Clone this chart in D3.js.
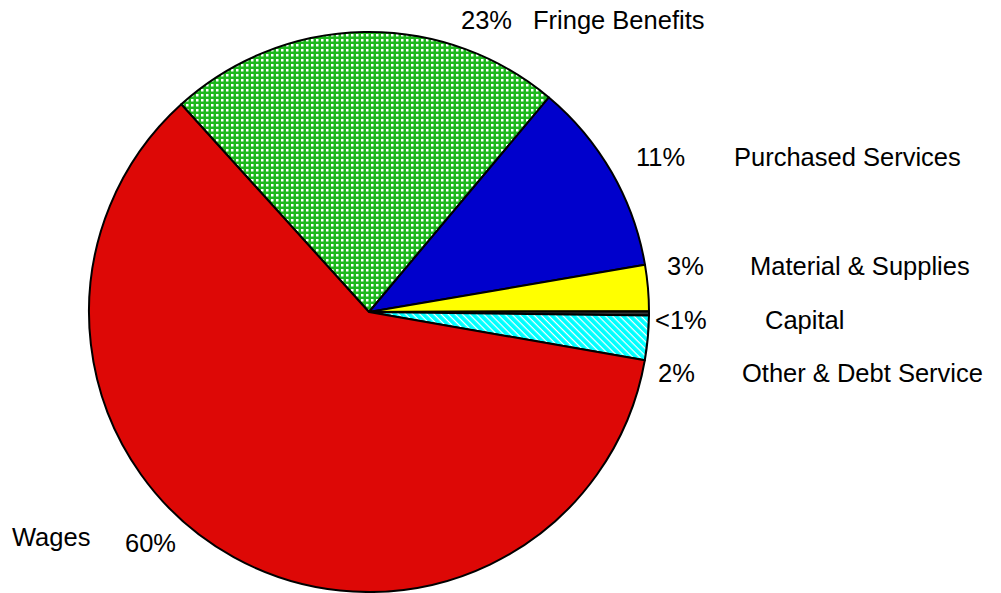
<!DOCTYPE html>
<html>
<head>
<meta charset="utf-8">
<script src="https://cdn.jsdelivr.net/npm/d3@7"></script>
<style>
	body { margin:0; background:#fff; }
	svg { display:block; font-family:"Liberation Sans", Arial, sans-serif; }
</style>
</head>
<body>
<div id="chart"></div>
<script>
	// slices in clockwise order, starting at the fringe / wages edge
	var categories = ["Fringe Benefits", "Purchased Services", "Material & Supplies", "Capital", "Other & Debt Service", "Wages"];
	var values     = [22.8, 11.2, 2.65, 0.25, 2.55, 60.55];
	var pctLabels  = ["23%", "11%", "3%", "<1%", "2%", "60%"];

	var width = 1001, height = 593;
	var cx = 369, cy = 312, radius = 280;
	var startDeg = -42.1;
	var fontSize = 25.5;

	// label positions: [pct x, name x, baseline y]
	var labelPos = [
		[461, 533, 29],
		[636, 734, 166],
		[667, 750, 275],
		[655, 765, 329],
		[658, 742, 382],
		[125, 12, 552]
	];
	var wagesNameY = 546;

	var svg = d3.select("#chart").append("svg")
		.attr("width", width)
		.attr("height", height);

	var defs = svg.append("defs");

	// green checker fill
	var pg = defs.append("pattern")
		.attr("id", "checker")
		.attr("patternUnits", "userSpaceOnUse")
		.attr("width", 5).attr("height", 5);
	pg.append("rect").attr("width", 5).attr("height", 5).attr("fill", "#1cb81c");
	pg.append("rect").attr("x", 2).attr("y", 2).attr("width", 2.5).attr("height", 2.5).attr("fill", "#ffffff");

	// cyan diagonal hatch
	var pc = defs.append("pattern")
		.attr("id", "hatch")
		.attr("patternUnits", "userSpaceOnUse")
		.attr("width", 5).attr("height", 5)
		.attr("patternTransform", "rotate(45)");
	pc.append("rect").attr("width", 5).attr("height", 5).attr("fill", "#00ffff");
	pc.append("rect").attr("width", 5).attr("height", 1.2).attr("fill", "#ffffff");

	var fills = ["url(#checker)", "#0000cc", "#ffff00", "#333333", "url(#hatch)", "#dd0806"];

	var pie = d3.pie()
		.sort(null)
		.startAngle(startDeg * Math.PI / 180)
		.endAngle(startDeg * Math.PI / 180 + 2 * Math.PI);

	var arc = d3.arc().innerRadius(0).outerRadius(radius);

	var g = svg.append("g").attr("transform", "translate(" + cx + "," + cy + ")");

	g.selectAll("path")
		.data(pie(values))
		.enter().append("path")
		.attr("d", arc)
		.attr("fill", function(d, i){ return fills[i]; })
		.attr("stroke", "#000")
		.attr("stroke-width", 2)
		.attr("stroke-linejoin", "round");

	// labels
	categories.forEach(function(name, i){
		var p = labelPos[i];
		svg.append("text")
			.attr("x", p[0]).attr("y", p[2])
			.attr("font-size", fontSize)
			.attr("fill", "#000")
			.text(pctLabels[i]);
		svg.append("text")
			.attr("x", p[1]).attr("y", name == "Wages" ? wagesNameY : p[2])
			.attr("font-size", fontSize)
			.attr("fill", "#000")
			.text(name);
	});
</script>
</body>
</html>
